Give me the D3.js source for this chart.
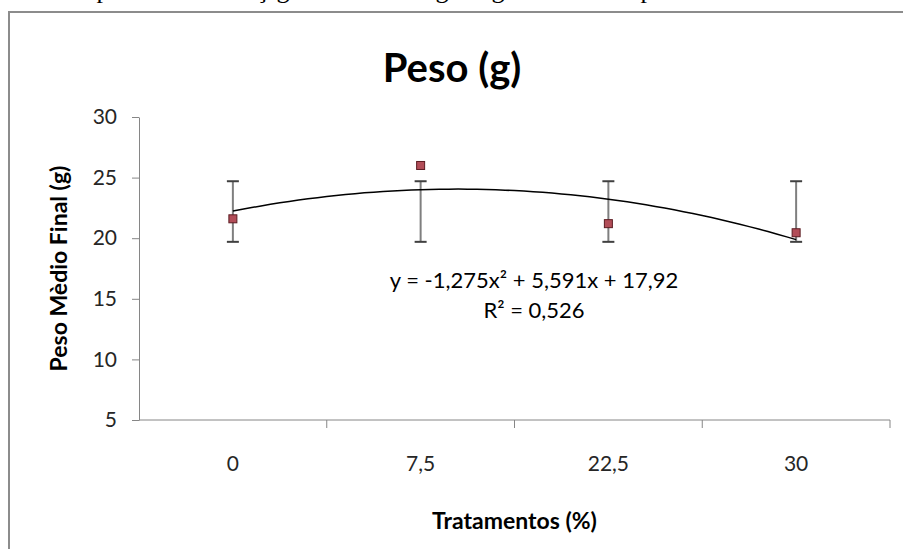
<!DOCTYPE html>
<html>
<head>
<meta charset="utf-8">
<style>
  body { margin: 0; background: #fff; }
  svg text { font-family: Lato, "Open Sans", sans-serif; }
  .tick text { font-size: 21px; fill: #262626; }
  .axis path, .axis line { stroke: #868686; }
</style>
<script src="https://d3js.org/d3.v7.min.js"></script>
</head>
<body>
<script>
// data
var categories = ["0", "7,5", "22,5", "30"];
var meanWeight = [21.6, 26.0, 21.2, 20.45];
var errLow = [19.7, 19.7, 19.7, 19.7];
var errHigh = [24.7, 24.7, 24.7, 24.7];
var yTicks = [5, 10, 15, 20, 25, 30];
// trendline y = a x^2 + b x + c, x = category index 1..4
var trendCoef = [-1.275, 5.591, 17.92];
var eqLines = ["y = -1,275x² + 5,591x + 17,92", "R² = 0,526"];
// fragments of the caption cut off above the chart
var captionBits = [["p", 103], ["ç", 262], ["g", 283], ["g", 442], ["g", 498], ["p", 647]];

var width = 903, height = 549;
var svg = d3.select("body").append("svg")
    .attr("width", width).attr("height", height);

// caption remnant (only its descenders show)
svg.selectAll(".cap").data(captionBits).enter().append("text")
    .attr("class", "cap")
    .attr("x", function(d) { return d[1]; })
    .attr("y", -2)
    .attr("text-anchor", "middle")
    .style("font-family", "'Liberation Serif', serif")
    .style("font-size", "26px")
    .text(function(d) { return d[0]; });

// chart frame
svg.append("rect")
    .attr("x", 9).attr("y", 12)
    .attr("width", 920).attr("height", 560)
    .attr("fill", "#fff")
    .attr("stroke", "#8c8c8c").attr("stroke-width", 2);

var plotL = 139, plotR = 890, plotT = 117, plotB = 420;

var x = d3.scaleBand().domain(categories).range([plotL, plotR]);
var y = d3.scaleLinear().domain([5, 30]).range([plotB, plotT]);
// numeric scale for the trend line (category index)
var xi = d3.scaleLinear().domain([1, 4])
    .range([x(categories[0]) + x.bandwidth() / 2, x(categories[3]) + x.bandwidth() / 2]);

// y axis
svg.append("g").attr("class", "axis")
    .attr("transform", "translate(" + plotL + ",0)")
    .call(d3.axisLeft(y).tickValues(yTicks).tickSize(7).tickPadding(15).tickSizeOuter(0));

// x axis with ticks between categories
var xAxis = svg.append("g").attr("class", "axis")
    .attr("transform", "translate(0," + plotB + ")");
xAxis.append("line")
    .attr("x1", plotL).attr("x2", plotR)
    .attr("stroke", "#868686");
var bounds = d3.range(categories.length + 1).map(function(i) { return plotL + i * x.bandwidth(); });
xAxis.selectAll(".tk").data(bounds.slice(1)).enter().append("line")
    .attr("x1", function(d) { return d; }).attr("x2", function(d) { return d; })
    .attr("y1", 0).attr("y2", 8)
    .attr("stroke", "#868686");
xAxis.selectAll(".lbl").data(categories).enter().append("text")
    .attr("class", "lbl")
    .attr("x", function(d) { return x(d) + x.bandwidth() / 2; })
    .attr("y", 51)
    .attr("text-anchor", "middle")
    .style("font-size", "21px").attr("fill", "#262626")
    .text(function(d) { return d; });
svg.selectAll(".axis .domain").attr("stroke", "#868686");

// titles
svg.append("text")
    .attr("x", 452).attr("y", 82)
    .attr("text-anchor", "middle")
    .style("font-size", "40px").style("font-weight", "bold")
    .text("Peso (g)");
svg.append("text")
    .attr("transform", "translate(67," + (plotB + plotT) / 2 + ") rotate(-90)")
    .attr("text-anchor", "middle")
    .style("font-size", "23px").style("font-weight", "bold")
    .text("Peso Mèdio Final (g)");
svg.append("text")
    .attr("x", (plotL + plotR) / 2).attr("y", 529)
    .attr("text-anchor", "middle")
    .style("font-size", "23px").style("font-weight", "bold")
    .text("Tratamentos (%)");

// error bars
var eb = svg.selectAll(".eb").data(categories).enter().append("g")
    .attr("transform", function(d) { return "translate(" + (x(d) + x.bandwidth() / 2) + ",0)"; });
eb.append("line")
    .attr("y1", function(d, i) { return y(errLow[i]); })
    .attr("y2", function(d, i) { return y(errHigh[i]); })
    .attr("stroke", "#7f7f7f").attr("stroke-width", 2);
eb.append("line")
    .attr("x1", -6).attr("x2", 6)
    .attr("y1", function(d, i) { return y(errLow[i]); })
    .attr("y2", function(d, i) { return y(errLow[i]); })
    .attr("stroke", "#404040").attr("stroke-width", 2);
eb.append("line")
    .attr("x1", -6).attr("x2", 6)
    .attr("y1", function(d, i) { return y(errHigh[i]); })
    .attr("y2", function(d, i) { return y(errHigh[i]); })
    .attr("stroke", "#404040").attr("stroke-width", 2);

// trend line
var trendX = d3.range(1, 4.001, 0.05);
svg.append("path")
    .datum(trendX)
    .attr("fill", "none").attr("stroke", "#000").attr("stroke-width", 1.5)
    .attr("d", d3.line()
        .x(function(t) { return xi(t); })
        .y(function(t) { return y(trendCoef[0] * t * t + trendCoef[1] * t + trendCoef[2]); }));

// markers
svg.selectAll(".pt").data(categories).enter().append("rect")
    .attr("x", function(d) { return x(d) + x.bandwidth() / 2 - 4; })
    .attr("y", function(d, i) { return y(meanWeight[i]) - 4; })
    .attr("width", 8).attr("height", 8)
    .attr("fill", "#b24d58").attr("stroke", "#5c1c22").attr("stroke-width", 1);

// equation
svg.selectAll(".eq").data(eqLines).enter().append("text")
    .attr("x", 534)
    .attr("y", function(d, i) { return 288 + i * 30; })
    .attr("text-anchor", "middle")
    .style("font-size", "22px").attr("fill", "#000")
    .text(function(d) { return d; });
</script>
</body>
</html>
